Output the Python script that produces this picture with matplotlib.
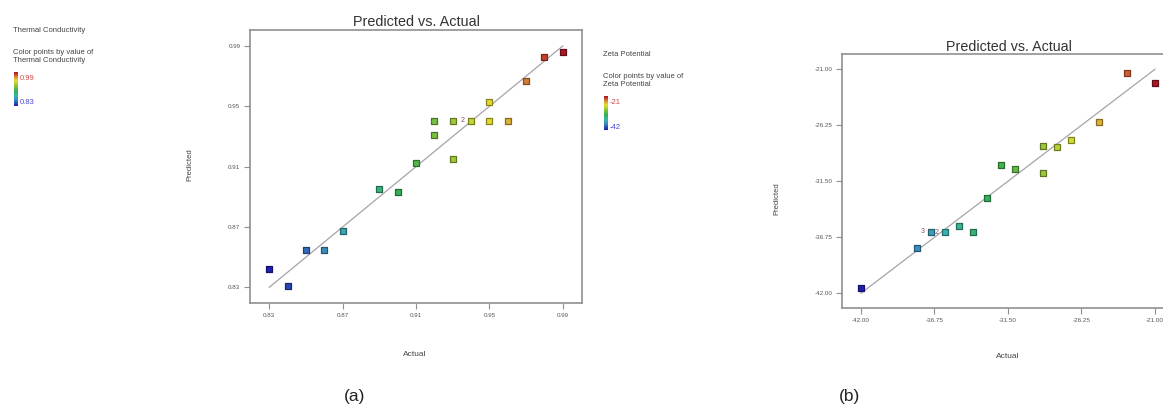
import numpy as np
import matplotlib
matplotlib.use("Agg")
import matplotlib.pyplot as plt
from matplotlib.colors import LinearSegmentedColormap, to_rgb

plt.rcParams['font.family'] = ['Liberation Sans', 'DejaVu Sans']

# Thermal conductivity runs: actual vs model prediction
tc_actual = [0.83, 0.84, 0.85, 0.86, 0.87, 0.89, 0.90, 0.91, 0.92, 0.92,
             0.93, 0.93, 0.94, 0.95, 0.95, 0.96, 0.97, 0.98, 0.99]
tc_predicted = [0.842, 0.831, 0.855, 0.8545, 0.8676, 0.8952, 0.8934, 0.9122, 0.9405, 0.9308,
                0.9405, 0.9153, 0.9405, 0.9531, 0.9405, 0.9405, 0.9666, 0.9829, 0.9862]
tc_ticks = [0.83, 0.87, 0.91, 0.95, 0.99]
tc_counts = {12: "2"}

# Zeta potential runs: actual vs model prediction
zp_actual = [-42.0, -38.0, -37.0, -36.0, -35.0, -34.0, -33.0, -32.0,
             -31.0, -29.0, -29.0, -28.0, -27.0, -25.0, -23.0, -21.0]
zp_predicted = [-41.53, -37.78, -36.22, -36.28, -35.66, -36.22, -33.03, -30.0,
                -30.34, -28.19, -30.69, -28.31, -27.66, -25.94, -21.34, -22.31]
zp_ticks = [-42.00, -36.75, -31.50, -26.25, -21.00]
zp_counts = {2: "3", 3: "2"}

W, H = 1163, 407

rainbow = LinearSegmentedColormap.from_list("de_rainbow", [
    (0.00, "#1f1fb0"), (0.18, "#3a8cc0"), (0.30, "#3ab8a8"), (0.45, "#34b050"),
    (0.62, "#9cc83a"), (0.74, "#e4e030"), (0.84, "#dca038"), (0.92, "#cc5030"),
    (1.00, "#a81828")])


def fr(x, y):
    # pixel position -> figure fraction
    return x / W, 1 - y / H


def panel(ax, actual, predicted, ticks, lim, counts):
    actual = np.array(actual)
    predicted = np.array(predicted)
    lo, hi = actual.min(), actual.max()
    ax.plot([lo, hi], [lo, hi], color="#a8a2aa", lw=0.9, zorder=1)
    norm = (actual - lo) / (hi - lo)
    face = rainbow(norm)
    edge = [tuple(c * 0.6 for c in to_rgb(f)) for f in face]
    ax.scatter(actual, predicted, marker="s", s=19, c=face, edgecolors=edge,
               linewidths=0.9, zorder=3)
    for i, txt in counts.items():
        ax.annotate(txt, (actual[i], predicted[i]), xytext=(-6, 0),
                    textcoords="offset points", fontsize=5, color="#885060",
                    ha="center", va="center")
    ax.set_xlim(lim[0], lim[1])
    ax.set_ylim(lim[2], lim[3])
    ax.set_xticks(ticks)
    ax.set_yticks(ticks)
    ax.set_xticklabels([f"{t:.2f}" for t in ticks])
    ax.set_yticklabels([f"{t:.2f}" for t in ticks])
    ax.tick_params(direction="out", length=4, width=0.8, color="#909090",
                   labelsize=4.5, labelcolor="#555555", pad=3)
    for s in ax.spines.values():
        s.set_color("#909090")
        s.set_linewidth(1.2)


def legend_block(x, y, name, top, bottom):
    fig.text(*fr(x, y), name, fontsize=5.5, color="#444444", va="center")
    fig.text(*fr(x, y + 23), "Color points by value of", fontsize=5.5,
             color="#444444", va="center")
    fig.text(*fr(x, y + 31), name, fontsize=5.5, color="#444444", va="center")
    bx, by = fr(x + 1, y + 76)
    cax = fig.add_axes([bx, by, 4 / W, 34 / H])
    cax.imshow(np.linspace(0, 1, 60)[:, None], cmap=rainbow, aspect="auto",
               origin="lower")
    cax.axis("off")
    fig.text(*fr(x + 7, y + 49), top, fontsize=5.5, color="#d04848", va="center")
    fig.text(*fr(x + 7, y + 73), bottom, fontsize=5.5, color="#4848d0", va="center")


fig = plt.figure(figsize=(W / 100, H / 100), dpi=100)

ax_a = fig.add_axes([250 / W, 1 - 303 / H, 332 / W, 273 / H])
panel(ax_a, tc_actual, tc_predicted, tc_ticks,
      (0.8195, 1.0005, 0.8196, 1.0006), tc_counts)
ax_a.set_title("Predicted vs. Actual", fontsize=10.4, color="#333333", pad=3)

ax_b = fig.add_axes([842 / W, 1 - 308 / H, 333 / W, 254 / H])
panel(ax_b, zp_actual, zp_predicted, zp_ticks,
      (-43.35, -19.57, -43.38, -19.57), zp_counts)
ax_b.set_title("Predicted vs. Actual", fontsize=10.3, color="#333333", pad=2)

fig.text(*fr(190, 165), "Predicted", fontsize=5.5, color="#444444",
         rotation=90, ha="center", va="center")
fig.text(*fr(777, 199), "Predicted", fontsize=5.5, color="#444444",
         rotation=90, ha="center", va="center")
fig.text(*fr(415, 355), "Actual", fontsize=6, color="#444444", ha="center", va="center")
fig.text(*fr(1008, 357), "Actual", fontsize=6, color="#444444", ha="center", va="center")

legend_block(13, 30, "Thermal Conductivity", "0.99", "0.83")
legend_block(603, 54, "Zeta Potential", "-21", "-42")

fig.text(*fr(355, 396), "(a)", fontsize=12.5, color="#222222", ha="center", va="center")
fig.text(*fr(850, 396), "(b)", fontsize=12.5, color="#222222", ha="center", va="center")

fig.savefig("out.png", dpi=100)
